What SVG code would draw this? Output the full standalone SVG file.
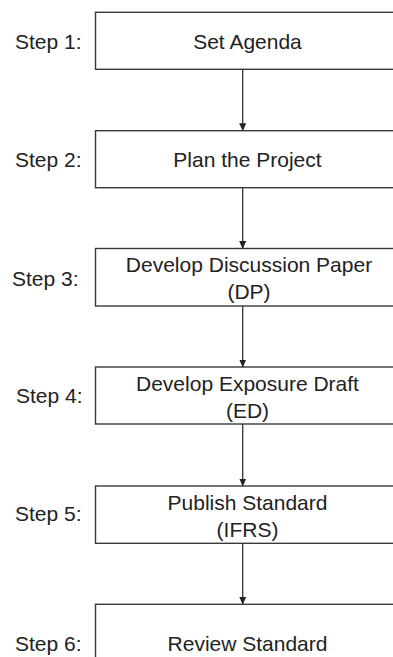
<svg xmlns="http://www.w3.org/2000/svg" width="393" height="657" viewBox="0 0 393 657">
<style>
text { font-family: "Liberation Sans", Arial, sans-serif; font-size: 21px; fill: #222; }
.box { fill: #fff; stroke: #3a3a3a; stroke-width: 1.4; }
.lbl { text-anchor: middle; }
.conn { stroke: #333; stroke-width: 1.3; fill: none; marker-end: url(#ah); }
</style>
<defs>
<marker id="ah" markerUnits="userSpaceOnUse" markerWidth="8" markerHeight="13" refX="7.5" refY="3.5" orient="auto" viewBox="0 0 8 7">
<path d="M0,0 L8,3.5 L0,7 Z" fill="#222"/>
</marker>
</defs>
<rect width="393" height="657" fill="#fff"/>
<g id="step1">
<text x="15" y="48.5">Step 1:</text>
<rect class="box" x="95.5" y="12.3" width="320" height="57"/>
<text class="lbl" x="247.5" y="48.5">Set Agenda</text>
</g>
<g id="step2">
<text x="15" y="167">Step 2:</text>
<rect class="box" x="95.5" y="130.7" width="320" height="57"/>
<text class="lbl" x="247.5" y="167">Plan the Project</text>
</g>
<g id="step3">
<text x="12" y="286">Step 3:</text>
<rect class="box" x="95.5" y="248.5" width="320" height="57.5"/>
<text class="lbl" x="249" y="272">Develop Discussion Paper</text>
<text class="lbl" x="249" y="299">(DP)</text>
</g>
<g id="step4">
<text x="16" y="403">Step 4:</text>
<rect class="box" x="95.5" y="367" width="320" height="57"/>
<text class="lbl" x="247.5" y="390.5">Develop Exposure Draft</text>
<text class="lbl" x="247.5" y="417.5">(ED)</text>
</g>
<g id="step5">
<text x="15" y="521">Step 5:</text>
<rect class="box" x="95.5" y="486" width="320" height="57.3"/>
<text class="lbl" x="247.5" y="509.5">Publish Standard</text>
<text class="lbl" x="247.5" y="536.5">(IFRS)</text>
</g>
<g id="step6">
<text x="15" y="650.7">Step 6:</text>
<rect class="box" x="95.5" y="604.3" width="320" height="60"/>
<text class="lbl" x="247.5" y="650.7">Review Standard</text>
</g>
<g id="connectors">
<line class="conn" x1="242.7" y1="69.3" x2="242.7" y2="130.7"/>
<line class="conn" x1="242.7" y1="187.7" x2="242.7" y2="248.5"/>
<line class="conn" x1="242.7" y1="306" x2="242.7" y2="367"/>
<line class="conn" x1="242.7" y1="424" x2="242.7" y2="486"/>
<line class="conn" x1="242.7" y1="543.3" x2="242.7" y2="604.3"/>
</g>
</svg>
